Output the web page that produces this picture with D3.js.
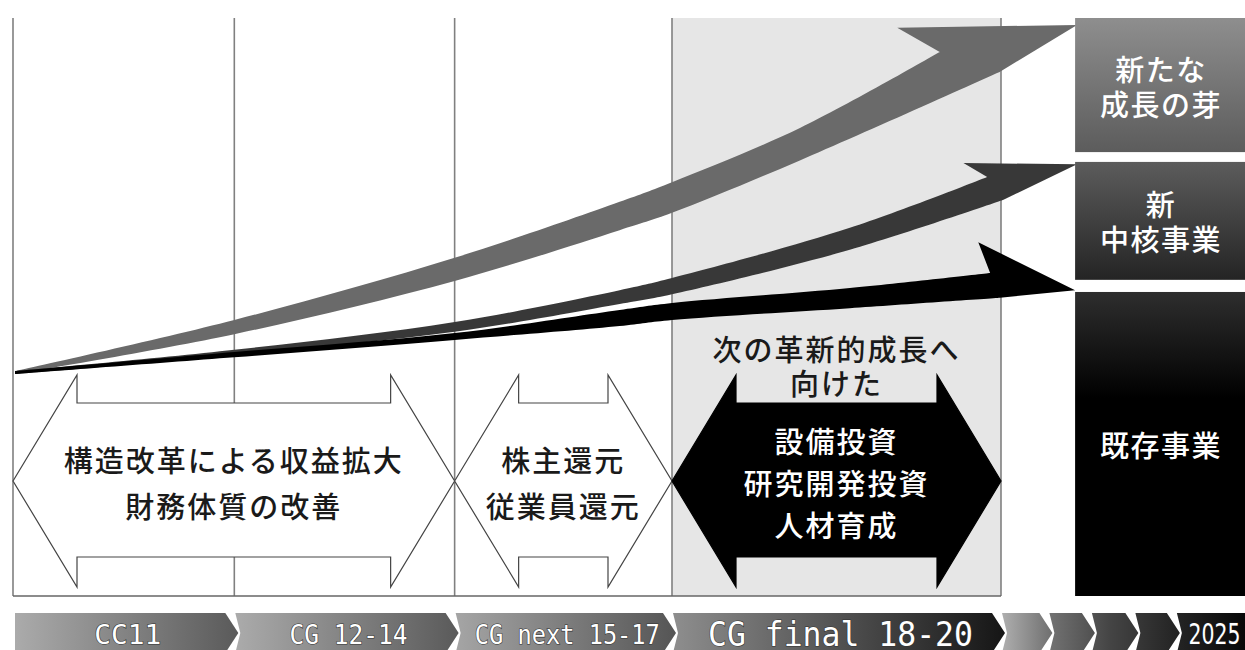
<!DOCTYPE html>
<html>
<head>
<meta charset="utf-8">
<script src="https://cdn.jsdelivr.net/npm/d3@7"></script>
<style>
body { margin: 0; background: #fff; }
text { font-family: "Noto Sans CJK JP", sans-serif; }
</style>
</head>
<body>
<div id="chart"></div>
<script>
// ---- data (x in period units 0-100 = CC11 start .. CG final end, y in growth units 0-100) ----
var periods = ["CC11", "CG 12-14", "CG next 15-17", "CG final 18-20"];
var periodEdges = [0, 22.4, 44.7, 66.7, 100];
var futureLabels = ["", "", "", "", "2025"];
var futureEdges = [100, 104.8, 109.1, 113.5, 117.7, 124.7];

var policyLabels = [
    ["構造改革による収益拡大", "財務体質の改善"],
    ["株主還元", "従業員還元"],
    ["設備投資", "研究開発投資", "人材育成"]
];
var policySpans = [[0, 44.7], [44.7, 66.7], [66.7, 100]];
var policyNote = ["次の革新的成長へ", "向けた"];

var businessLabels = [["新たな", "成長の芽"], ["新", "中核事業"], ["既存事業"]];
var businessBands = [[76.8, 100], [54.7, 75.1], [0, 52.6]];
var businessLeft = 107.5;

// growth arrows: upper edge, lower edge, barb and tip of the head
var growthUpper = [
    [[0.2, 38.9], [22.4, 47.75], [44.7, 58.5], [61.4, 68.2], [66.7, 71.6], [79.7, 81.0], [93.8, 94.1]],
    [[0.2, 38.9], [22.4, 42.6], [44.7, 47.4], [61.4, 52.9], [66.7, 55.0], [84.7, 63.7], [98.6, 72.5]],
    [[0.2, 38.9], [22.4, 42.2], [44.7, 45.5], [61.4, 49.5], [66.7, 50.7], [84.7, 53.3], [98.9, 55.9]]
];
var growthLower = [
    [[0.2, 38.4], [22.4, 45.3], [44.7, 54.5], [61.4, 63.3], [66.7, 66.3], [79.7, 75.4], [99.9, 90.7]],
    [[0.2, 38.4], [22.4, 41.7], [44.7, 45.7], [61.4, 50.5], [66.7, 52.2], [84.7, 59.9], [100.2, 68.5]],
    [[0.2, 38.4], [22.4, 41.3], [44.7, 44.3], [61.4, 46.7], [66.7, 47.75], [84.7, 49.8], [99.9, 51.6]]
];
var growthBarb = [[89.5, 98.3], [96.2, 74.9], [97.7, 61.2]];
var growthTip = [[107.7, 98.8], [107.7, 74.7], [107.5, 52.9]];
var growthColors = ["#6a6a6a", "#393939", "#000"];

// ---- svg ----
var svgWidth = 1245;
var svgHeight = 650;

var svg = d3.select("#chart")
    .append("svg")
    .attr("width", svgWidth)
    .attr("height", svgHeight);

var x = d3.scaleLinear().domain([0, 100]).range([13, 1001]);
var y = d3.scaleLinear().domain([0, 100]).range([596, 18]);

var defs = svg.append("defs");

function hGrad(id, c0, c1) {
    var g = defs.append("linearGradient").attr("id", id)
        .attr("x1", 0).attr("x2", 1).attr("y1", 0).attr("y2", 0);
    g.append("stop").attr("offset", 0).attr("stop-color", c0);
    g.append("stop").attr("offset", 1).attr("stop-color", c1);
}
function vGrad(id, c0, c1, mid) {
    var g = defs.append("linearGradient").attr("id", id)
        .attr("x1", 0).attr("x2", 0).attr("y1", 0).attr("y2", 1);
    g.append("stop").attr("offset", 0).attr("stop-color", c0);
    g.append("stop").attr("offset", mid || 1).attr("stop-color", c1);
}

// soft edge like the scanned original
defs.append("filter").attr("id", "soft")
    .append("feGaussianBlur").attr("stdDeviation", 0.6);

// gray band behind CG final
svg.append("rect")
    .attr("x", x(periodEdges[3]))
    .attr("y", y(100))
    .attr("width", x(periodEdges[4]) - x(periodEdges[3]))
    .attr("height", y(0) - y(100))
    .attr("fill", "#e6e6e6");

// vertical period lines + bottom line
svg.selectAll(".vline")
    .data(periodEdges)
    .enter()
    .append("line")
    .attr("x1", d => x(d)).attr("x2", d => x(d))
    .attr("y1", y(100)).attr("y2", y(0))
    .attr("stroke", "#808080")
    .attr("stroke-width", 1.6);

svg.append("line")
    .attr("x1", x(0)).attr("x2", x(100))
    .attr("y1", y(0)).attr("y2", y(0))
    .attr("stroke", "#666")
    .attr("stroke-width", 1.6);

// double-headed policy arrows
var head = 64;
var aMid = 481, aTop = 375, sTop = 403, sBot = 557, aBot = 587;

function dblArrow(x0, x1) {
    return [
        [x0, aMid], [x0 + head, aTop], [x0 + head, sTop], [x1 - head, sTop], [x1 - head, aTop],
        [x1, aMid], [x1 - head, aBot], [x1 - head, sBot], [x0 + head, sBot], [x0 + head, aBot]
    ];
}

policySpans.forEach(function (span, i) {
    var dark = i === 2;
    svg.append("polygon")
        .attr("points", dblArrow(x(span[0]), x(span[1])).join(" "))
        .attr("fill", dark ? "#000" : "#fff")
        .attr("stroke", dark ? "#000" : "#444")
        .attr("stroke-width", 1.2);

    var lines = policyLabels[i];
    var gap = dark ? 42 : 46;
    var cy = 482;
    var cx = (x(span[0]) + x(span[1])) / 2;
    lines.forEach(function (t, j) {
        svg.append("text")
            .attr("x", cx)
            .attr("y", cy + (j - (lines.length - 1) / 2) * gap)
            .attr("text-anchor", "middle")
            .attr("dominant-baseline", "central")
            .attr("font-size", "29px")
            .attr("font-weight", 500)
            .attr("letter-spacing", "2px")
            .attr("fill", dark ? "#fff" : "#1a1a1a")
            .text(t);
    });
});

policyNote.forEach(function (t, j) {
    svg.append("text")
        .attr("x", (x(policySpans[2][0]) + x(policySpans[2][1])) / 2)
        .attr("y", 348 + j * 34)
        .attr("text-anchor", "middle")
        .attr("dominant-baseline", "central")
        .attr("font-size", "29px")
        .attr("font-weight", 500)
        .attr("letter-spacing", "2px")
        .attr("fill", "#1a1a1a")
        .text(t);
});

// growth arrows
var edge = d3.line()
    .x(d => x(d[0]))
    .y(d => y(d[1]))
    .curve(d3.curveCatmullRom.alpha(0.5));

growthUpper.forEach(function (up, i) {
    var low = growthLower[i].slice().reverse();
    var b = growthBarb[i], t = growthTip[i];
    var d = edge(up) +
        "L" + x(b[0]) + "," + y(b[1]) +
        "L" + x(t[0]) + "," + y(t[1]) +
        edge(low).replace(/^M/, "L") + "Z";
    svg.append("path")
        .attr("d", d)
        .attr("fill", growthColors[i])
        .attr("filter", "url(#soft)");
});

// business boxes on the right
vGrad("box0", "#8e8e8e", "#5c5c5c");
vGrad("box1", "#5c5c5c", "#242424");
vGrad("box2", "#2e2e2e", "#000", 0.35);

businessBands.forEach(function (band, i) {
    svg.append("rect")
        .attr("x", x(businessLeft))
        .attr("y", y(band[1]))
        .attr("width", svgWidth - x(businessLeft))
        .attr("height", y(band[0]) - y(band[1]))
        .attr("fill", "url(#box" + i + ")");
    var lines = businessLabels[i];
    var cy = (y(band[0]) + y(band[1])) / 2;
    var cx = (x(businessLeft) + svgWidth) / 2 + 1;
    lines.forEach(function (t, j) {
        svg.append("text")
            .attr("x", cx)
            .attr("y", cy + (j - (lines.length - 1) / 2) * 35)
            .attr("text-anchor", "middle")
            .attr("dominant-baseline", "central")
            .attr("font-size", "29px")
            .attr("font-weight", 500)
            .attr("letter-spacing", "1.5px")
            .attr("fill", "#fff")
            .text(t);
    });
});

// period chevrons along the bottom
var cTop = 613, cMid = 633, cBot = 653, tipLen = 13, notch = 5;

function chevron(e0, e1, first, last) {
    var left = first ? e0 + 2 : e0 + 1;
    var tip = e1 + 4;
    var pts = [[left, cTop]];
    if (last) {
        pts.push([svgWidth + 5, cTop], [svgWidth + 5, cBot]);
    } else {
        pts.push([tip - tipLen, cTop], [tip, cMid], [tip - tipLen, cBot]);
    }
    pts.push([left, cBot]);
    if (!first) pts.push([left + notch, cMid]);
    return pts;
}

// label font size and drawn width per period chevron
var chevFonts = [27, 27, 27, 33];
var chevWidths = [67, 118, 185, 265];
var chevGrads = [["#ababab", "#5a5a5a"], ["#ababab", "#5a5a5a"], ["#a5a5a5", "#555"], ["#8e8e8e", "#151515"]];

periods.forEach(function (p, i) {
    hGrad("chev" + i, chevGrads[i][0], chevGrads[i][1]);
    var e0 = x(periodEdges[i]), e1 = x(periodEdges[i + 1]);
    svg.append("polygon")
        .attr("points", chevron(e0, e1, i === 0, false).join(" "))
        .attr("fill", "url(#chev" + i + ")");
    svg.append("text")
        .attr("x", (e0 + e1) / 2 + 4)
        .attr("y", 634)
        .attr("text-anchor", "middle")
        .attr("dominant-baseline", "central")
        .style("font-family", "'DejaVu Sans Mono', monospace")
        .attr("font-size", chevFonts[i] + "px")
        .attr("textLength", chevWidths[i])
        .attr("lengthAdjust", "spacingAndGlyphs")
        .attr("fill", "#fff")
        .attr("stroke", "#333")
        .attr("stroke-width", 1.2)
        .attr("paint-order", "stroke")
        .text(p);
});

var fg = defs.append("linearGradient").attr("id", "future")
    .attr("gradientUnits", "userSpaceOnUse")
    .attr("x1", x(100)).attr("x2", svgWidth).attr("y1", 0).attr("y2", 0);
[[0, "#b0b0b0"], [0.2, "#727272"], [0.45, "#444"], [0.7, "#262626"], [1, "#080808"]]
    .forEach(s => fg.append("stop").attr("offset", s[0]).attr("stop-color", s[1]));

futureLabels.forEach(function (lab, i) {
    var e0 = x(futureEdges[i]), e1 = x(futureEdges[i + 1]);
    var last = i === futureLabels.length - 1;
    svg.append("polygon")
        .attr("points", chevron(e0, e1, false, last).join(" "))
        .attr("fill", "url(#future)");
    if (lab) {
        svg.append("text")
            .attr("x", (e0 + svgWidth) / 2 + 4)
            .attr("y", 634)
            .attr("text-anchor", "middle")
            .attr("dominant-baseline", "central")
            .style("font-family", "'DejaVu Sans', sans-serif")
            .attr("font-size", "29px")
            .attr("textLength", 52)
            .attr("lengthAdjust", "spacingAndGlyphs")
            .attr("fill", "#fff")
            .attr("stroke", "#222")
            .attr("stroke-width", 1.2)
            .attr("paint-order", "stroke")
            .text(lab);
    }
});
</script>
</body>
</html>
